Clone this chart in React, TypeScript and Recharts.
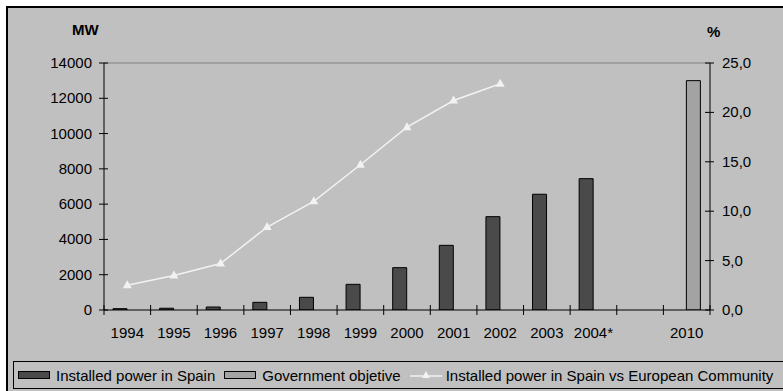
import React from 'react';
import {
  ComposedChart,
  Bar,
  Line,
  XAxis,
  YAxis,
  Legend,
  ReferenceLine,
} from 'recharts';

const years = ['1994', '1995', '1996', '1997', '1998', '1999', '2000', '2001', '2002', '2003', '2004*', '', '2010'];
const installedMW = [75, 100, 170, 435, 720, 1455, 2400, 3665, 5290, 6560, 7445, null, null];
const governmentMW = [null, null, null, null, null, null, null, null, null, null, null, null, 13000];
const shareEC = [2.5, 3.5, 4.7, 8.4, 11.0, 14.7, 18.5, 21.2, 22.9, null, null, null, null];
const mwTicks = [0, 2000, 4000, 6000, 8000, 10000, 12000, 14000];
const pctTicks = [0, 5, 10, 15, 20, 25];
const seriesNames = [
  'Installed power in Spain',
  'Government objetive',
  'Installed power in Spain vs European Community',
];

const data = years.map((year, i) => ({
  year,
  installed: installedMW[i],
  government: governmentMW[i],
  share: shareEC[i],
}));

const FONT = "Arial, 'Liberation Sans', sans-serif";
const FS = 15;
const DARK = '#4a4a4a';
const LIGHT = '#a3a3a3';
const BG = '#c0c0c0';

const XTick = (props: any) => {
  const { x, y, payload, index, visibleTicksCount } = props;
  const half = payload.offset || 0;
  return (
    <g>
      <line x1={x - half} x2={x - half} y1={y - 5} y2={y + 5} stroke="#000" />
      {index === visibleTicksCount - 1 && (
        <line x1={x + half} x2={x + half} y1={y - 5} y2={y + 5} stroke="#000" />
      )}
      <text x={x} y={y + 28} textAnchor="middle" fontSize={FS} fontFamily={FONT} fill="#000">
        {payload.value}
      </text>
    </g>
  );
};

const LeftTick = (props: any) => {
  const { x, y, payload } = props;
  return (
    <g>
      <line x1={x - 5} x2={x + 4} y1={y} y2={y} stroke="#000" />
      <text x={x - 12} y={y} dy={5} textAnchor="end" fontSize={FS} fontFamily={FONT} fill="#000">
        {payload.value}
      </text>
    </g>
  );
};

const RightTick = (props: any) => {
  const { x, y, payload } = props;
  return (
    <g>
      <line x1={x - 5} x2={x + 4} y1={y} y2={y} stroke="#000" />
      <text x={x + 12} y={y} dy={5} textAnchor="start" fontSize={FS} fontFamily={FONT} fill="#000">
        {Number(payload.value).toFixed(1).replace('.', ',')}
      </text>
    </g>
  );
};

const Triangle = (props: any) => {
  const { cx, cy, value } = props;
  if (value == null || cx == null) return null;
  return <path d={`M${cx},${cy - 5} L${cx + 4.5},${cy + 3} L${cx - 4.5},${cy + 3} Z`} fill="#f2f2f2" />;
};

const LegendBox = (props: any) => {
  const items = [...(props.payload || [])].sort(
    (a: any, b: any) => seriesNames.indexOf(a.value) - seriesNames.indexOf(b.value)
  );
  return (
    <div
      style={{
        border: '1px solid #000',
        height: 26,
        display: 'flex',
        alignItems: 'center',
        fontFamily: FONT,
        fontSize: FS,
        color: '#000',
        paddingLeft: 4,
        whiteSpace: 'nowrap',
      }}
    >
      {items.map((item: any) => (
        <div key={item.value} style={{ display: 'flex', alignItems: 'center', marginRight: 9 }}>
          {item.type === 'line' ? (
            <svg width={32} height={10} style={{ marginRight: 4 }}>
              <line x1={0} x2={32} y1={6} y2={6} stroke="#f2f2f2" strokeWidth={1.5} />
              <path d="M16,1 L20,8 L12,8 Z" fill="#f2f2f2" />
            </svg>
          ) : (
            <svg width={32} height={10} style={{ marginRight: 6 }}>
              <rect x={0.5} y={1.5} width={31} height={7} fill={item.color} stroke="#000" />
            </svg>
          )}
          <span>{item.value}</span>
        </div>
      ))}
    </div>
  );
};

export default function App() {
  return (
    <div style={{ position: 'fixed', inset: 0, overflow: 'hidden', background: '#fff' }}>
      <div
        style={{
          position: 'absolute',
          left: 6,
          top: 6,
          width: 800,
          height: 400,
          background: BG,
          border: '2px solid #000',
        }}
      />
      <div style={{ position: 'absolute', left: 0, top: 0 }}>
        <ComposedChart
          width={783}
          height={391}
          data={data}
          margin={{ top: 63, right: 0, bottom: 51, left: 0 }}
          barSize={14}
          barGap={0}
        >
          <XAxis
            dataKey="year"
            height={30}
            tickSize={0}
            tickMargin={0}
            tickLine={false}
            axisLine={{ stroke: '#000' }}
            tick={<XTick />}
            interval={0}
          />
          <YAxis
            yAxisId="mw"
            orientation="left"
            width={104}
            domain={[0, 14000]}
            ticks={mwTicks}
            tickSize={0}
            tickMargin={0}
            tickLine={false}
            axisLine={{ stroke: '#000' }}
            tick={<LeftTick />}
            allowDataOverflow
          />
          <YAxis
            yAxisId="pct"
            orientation="right"
            width={73}
            domain={[0, 25]}
            ticks={pctTicks}
            tickSize={0}
            tickMargin={0}
            tickLine={false}
            axisLine={{ stroke: '#000' }}
            tick={<RightTick />}
          />
          <ReferenceLine yAxisId="mw" y={14000} stroke="#808080" />
          <Bar
            yAxisId="mw"
            dataKey="installed"
            name={seriesNames[0]}
            fill={DARK}
            stroke="#000"
            strokeWidth={1}
            isAnimationActive={false}
            legendType="rect"
          />
          <Bar
            yAxisId="mw"
            dataKey="government"
            name={seriesNames[1]}
            fill={LIGHT}
            stroke="#000"
            strokeWidth={1}
            isAnimationActive={false}
            legendType="rect"
          />
          <Line
            yAxisId="pct"
            dataKey="share"
            name={seriesNames[2]}
            stroke="#f2f2f2"
            strokeWidth={1.5}
            dot={<Triangle />}
            activeDot={false}
            connectNulls={false}
            isAnimationActive={false}
            legendType="line"
          />
          <Legend
            layout="horizontal"
            verticalAlign="middle"
            align="center"
            width={780}
            wrapperStyle={{ left: 13, top: 361, width: 780 }}
            content={<LegendBox />}
          />
        </ComposedChart>
      </div>
      <div
        style={{
          position: 'absolute',
          left: 72,
          top: 21,
          fontFamily: FONT,
          fontSize: FS,
          fontWeight: 'bold',
        }}
      >
        MW
      </div>
      <div
        style={{
          position: 'absolute',
          left: 707,
          top: 23,
          fontFamily: FONT,
          fontSize: FS,
          fontWeight: 'bold',
        }}
      >
        %
      </div>
    </div>
  );
}
